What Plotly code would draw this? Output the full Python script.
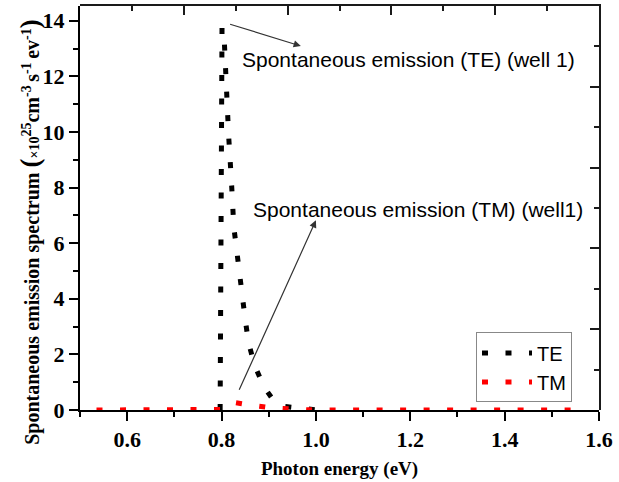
import plotly.graph_objects as go

# Photon energy (eV) and spontaneous emission spectrum (x10^25 cm^-3 s^-1 eV^-1)
te_energy = [0.797, 0.799, 0.801, 0.806, 0.810, 0.815, 0.821, 0.826, 0.832, 0.838,
             0.842, 0.850, 0.857, 0.870, 0.890, 0.910, 0.933, 0.955, 0.982, 1.000]
te_values = [0.0, 13.2, 13.75, 13.21, 11.53, 9.88, 8.21, 6.58, 5.76, 4.93,
             4.10, 3.28, 2.44, 1.61, 0.83, 0.35, 0.13, 0.07, 0.04, 0.0]

tm_energy = [0.535, 0.60, 0.70, 0.78, 0.80, 0.815, 0.830, 0.855, 0.878, 0.90,
             0.926, 0.95, 0.98, 1.02, 1.10, 1.20, 1.30, 1.40, 1.50, 1.565]
tm_values = [0.0, 0.0, 0.0, 0.0, 0.02, 0.15, 0.26, 0.19, 0.13, 0.09,
             0.06, 0.03, 0.01, 0.0, 0.0, 0.0, 0.0, 0.0, 0.0, 0.0]

x_ticks = [0.6, 0.8, 1.0, 1.2, 1.4, 1.6]
y_ticks = [0, 2, 4, 6, 8, 10, 12, 14]

DOTS = "6px,17.5px"
SERIF = "Liberation Serif"
SANS = "Liberation Sans"
FRAME = "#1a1a1a"

fig = go.Figure()

# Frame subplot (top/right axes with their own 10-division scale)
fig.add_trace(go.Scatter(x=[0, 10], y=[0, 10], xaxis="x2", yaxis="y2", mode="markers",
                         marker=dict(opacity=0, size=1), showlegend=False,
                         hoverinfo="skip"))

fig.add_trace(go.Scatter(x=te_energy, y=te_values, mode="lines", name="TE",
                         line=dict(color="black", width=5, dash=DOTS)))
fig.add_trace(go.Scatter(x=tm_energy, y=tm_values, mode="lines", name="TM",
                         line=dict(color="red", width=5, dash=DOTS)))

axis_common = dict(showline=True, linewidth=2, linecolor="black", showgrid=False,
                   zeroline=False, ticks="outside", ticklen=9, tickwidth=2,
                   tickcolor="black",
                   tickfont=dict(family=SERIF, size=22, color="black", weight="bold"))

frame_common = dict(range=[0, 10], dtick=2, tick0=0, showticklabels=False,
                    ticks="inside", ticklen=9, tickwidth=2, tickcolor=FRAME,
                    showline=True, linewidth=2, linecolor=FRAME,
                    showgrid=False, zeroline=False, domain=[0, 1],
                    minor=dict(dtick=1, tick0=0, ticklen=5, tickwidth=2,
                               ticks="inside", tickcolor=FRAME))

fig.update_layout(
    width=619, height=482,
    margin=dict(l=80, r=19, t=6, b=66),
    paper_bgcolor="white", plot_bgcolor="rgba(0,0,0,0)",
    xaxis=dict(range=[0.5, 1.6], tickvals=x_ticks, ticktext=[f"{v:.1f}" for v in x_ticks],
               minor=dict(dtick=0.1, tick0=0.5, ticklen=5, tickwidth=2, ticks="outside",
                          tickcolor="black"),
               title=dict(text="Photon energy (eV)", standoff=10,
                          font=dict(family=SERIF, size=19, color="black", weight="bold")),
               **axis_common),
    yaxis=dict(range=[0, 14.53], tickvals=y_ticks,
               minor=dict(dtick=1, tick0=0, ticklen=5, tickwidth=2, ticks="outside",
                          tickcolor="black"),
               **axis_common),
    xaxis2=dict(side="top", anchor="y2", **frame_common),
    yaxis2=dict(side="right", anchor="x2", **frame_common),
    legend=dict(x=0.763, y=0.192, xanchor="left", yanchor="top",
                bgcolor="white", bordercolor="#888888", borderwidth=1,
                itemwidth=50, tracegroupgap=0,
                font=dict(family=SANS, size=20, color="black")),
    showlegend=True,
)

# Y axis title, rotated
fig.add_annotation(
    text=("Spontaneous emission spectrum <span style='font-size:27px'>(</span>"
          "<span style='font-size:14px'>×10</span><sup>25</sup>cm<sup>-3 </sup>"
          "s<sup>-1 </sup>ev<sup>-1</sup><span style='font-size:27px'>)</span>"),
    xref="paper", yref="paper", x=-0.128, y=0.44, textangle=-90,
    showarrow=False, font=dict(family=SERIF, size=20, color="black", weight="bold"),
)

# Callout labels
fig.add_annotation(text="Spontaneous emission (TE) (well 1)", x=0.840, y=12.61,
                   xanchor="left", yanchor="middle", showarrow=False,
                   font=dict(family=SANS, size=21, color="black"))
fig.add_annotation(text="Spontaneous emission (TM) (well1)", x=0.863, y=7.20,
                   xanchor="left", yanchor="middle", showarrow=False,
                   font=dict(family=SANS, size=21, color="black"))

# Arrows pointing from the curves to their labels
fig.add_annotation(text="", x=0.968, y=13.09, ax=0.815, ay=13.89, axref="x", ayref="y",
                   showarrow=True, arrowhead=2, arrowsize=1.2, arrowwidth=1.2,
                   arrowcolor="#333333", standoff=0, startstandoff=0)
fig.add_annotation(text="", x=1.000, y=6.82, ax=0.836, ay=0.67, axref="x", ayref="y",
                   showarrow=True, arrowhead=2, arrowsize=1.2, arrowwidth=1.2,
                   arrowcolor="#333333", standoff=0, startstandoff=0)

fig.write_html("out.html")
